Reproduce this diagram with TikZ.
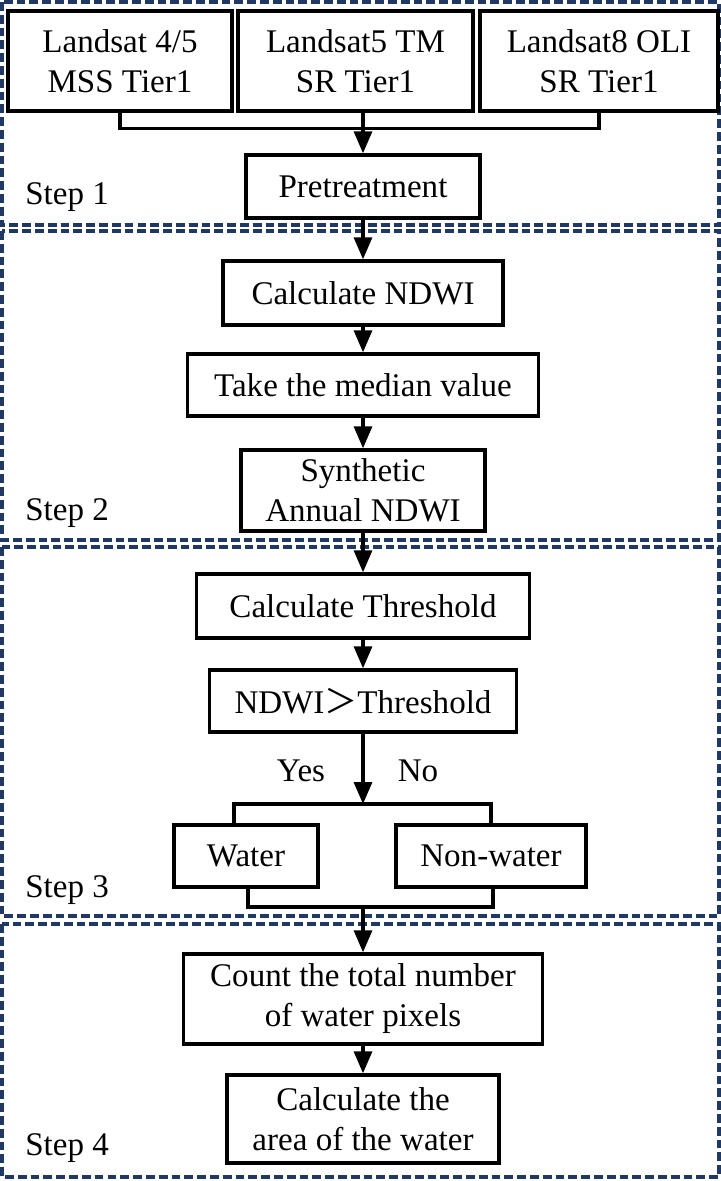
\documentclass[tikz,border=0pt]{standalone}
\usepackage{fontspec}
\setmainfont{Liberation Serif}
\newfontfamily\cjk{Noto Sans CJK SC}
\usetikzlibrary{arrows.meta}
\definecolor{navy}{HTML}{1F3864}

\begin{document}
\begin{tikzpicture}[x=0.025cm,y=-0.025cm,>={Triangle[length=0.55cm,width=0.45cm]},
  font=\fontsize{23.5}{28.5}\selectfont,
  box/.style={draw,line width=2.4pt,align=center,inner sep=0pt},
  stepframe/.style={draw=navy,line width=2.2pt,dash pattern=on 0.22cm off 0.1cm},
  steplabel/.style={anchor=west,inner sep=0pt}]
\useasboundingbox (0,0) rectangle (721,1181);
% dashed step frames
\draw[stepframe] (2,2) rectangle (719,225);
\draw[stepframe] (2,231) rectangle (719,540);
\draw[stepframe] (2,547) rectangle (719,916);
\draw[stepframe] (2,924) rectangle (719,1177);
\node[steplabel] (s1) at (25,197) {Step 1};
\node[steplabel] (s2) at (25,513) {Step 2};
\node[steplabel] (s3) at (25,890) {Step 3};
\node[steplabel] (s4) at (25,1148) {Step 4};
% step 1
\node[box,minimum width=5.6cm,minimum height=2.5cm] (ls45) at (120,61) {Landsat 4/5\\MSS Tier1};
\node[box,minimum width=5.875cm,minimum height=2.5cm] (ls5) at (355.5,61) {Landsat5 TM\\SR Tier1};
\node[box,minimum width=5.95cm,minimum height=2.5cm] (ls8) at (599,61) {Landsat8 OLI\\SR Tier1};
\node[box,minimum width=5.85cm,minimum height=1.575cm] (pre) at (363,186.5) {Pretreatment};
% step 2
\node[box,minimum width=7cm,minimum height=1.6cm] (ndwi) at (363,293) {Calculate NDWI};
\node[box,minimum width=8.775cm,minimum height=1.55cm] (median) at (363,385) {Take the median value};
\node[box,minimum width=6.1cm,minimum height=2.025cm] (synth) at (363,490.5) {Synthetic\\Annual NDWI};
% step 3
\node[box,minimum width=8.325cm,minimum height=1.6cm] (thres) at (363,606) {Calculate Threshold};
\node[box,minimum width=7.675cm,minimum height=1.55cm] (cmp) at (363,701) {NDWI{\cjk ＞}Threshold};
\node (yes) at (301,771) {Yes};
\node (no) at (418,771) {No};
\node[box,minimum width=3.6cm,minimum height=1.55cm] (water) at (246,856) {Water};
\node[box,minimum width=4.75cm,minimum height=1.55cm] (nonwater) at (491,856) {Non-water};
% step 4
\node[box,minimum width=8.975cm,minimum height=2.25cm] (count) at (363,999) {Count the total number\\of water pixels};
\node[box,minimum width=6.8cm,minimum height=2.2cm] (area) at (363,1119) {Calculate the\\area of the water};
\coordinate (split) at (363,804);
\coordinate (merge) at (363,907);
\begin{scope}[line width=2.4pt]
\draw (ls45.south) -- ++(0,16) -| (ls8.south);
\draw[->] (pre.north |- ls5.south) -- (pre.north);
\path[->]
(pre.south) edge (ndwi.north)
(ndwi.south) edge (median.north)
(median.south) edge (synth.north)
(synth.south) edge (thres.north)
(thres.south) edge (cmp.north)
(cmp.south) edge (split)
(merge) edge (count.north)
(count.south) edge (area.north)
;
\draw ([xshift=-0.3cm]water.north) |- (split) -| (nonwater.north);
\draw ([xshift=0.05cm]water.south) |- (merge) -| ([xshift=0.05cm]nonwater.south);
\end{scope}
\end{tikzpicture}
\end{document}
